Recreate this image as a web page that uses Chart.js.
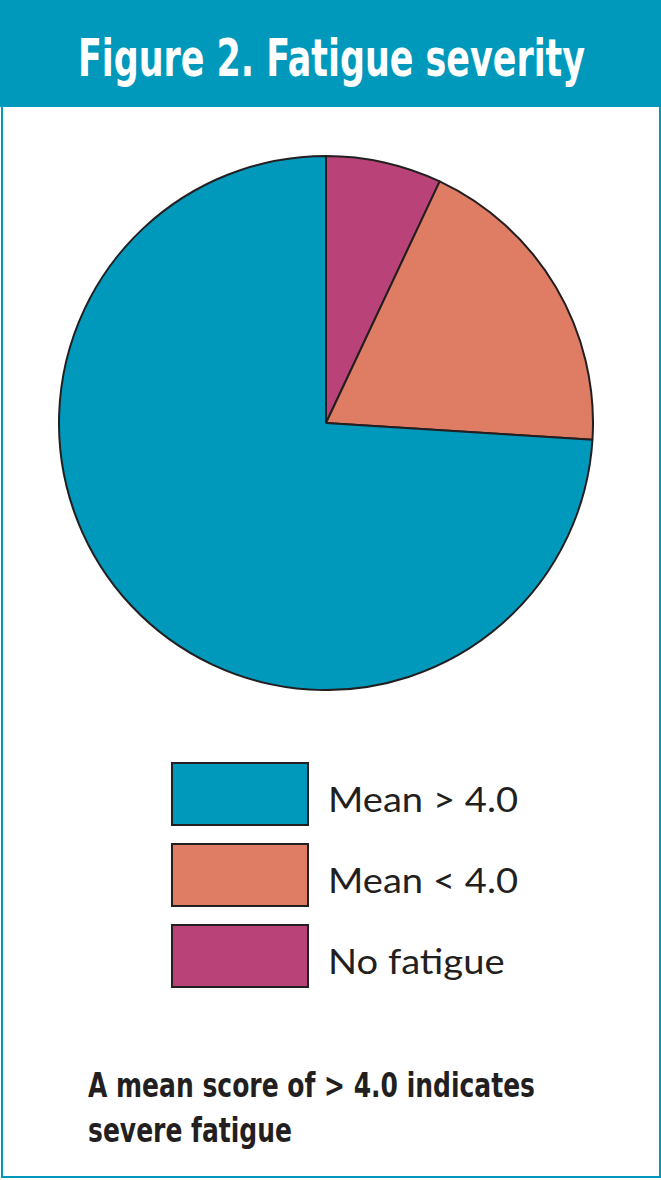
<!DOCTYPE html>
<html>
<head>
<meta charset="utf-8">
<script src="https://cdn.jsdelivr.net/npm/chart.js@4.4.1/dist/chart.umd.min.js"></script>
<style>
  html, body { margin: 0; padding: 0; background: #ffffff; }
  body { width: 661px; height: 1180px; position: relative; overflow: hidden; }
  #frame { position: absolute; left: 1px; top: 0; width: 656px; height: 1176px; border: 2px solid #0099bc; border-top: none; box-sizing: content-box; }
  #banner { position: absolute; left: 0; top: 0; width: 661px; height: 107px; background: #0099bc; }
  .fit { position: absolute; white-space: nowrap; transform-origin: 0 0; }
  #title { left: 78px; top: 25px; color: #ffffff; font-family: "DejaVu Sans", sans-serif; font-stretch: condensed;
           font-weight: bold; font-size: 52px; line-height: 66px; }
  #pieWrap { position: absolute; left: 58px; top: 155px; width: 536px; height: 536px; }
  .leg { position: absolute; left: 171px; width: 138px; height: 64px; box-sizing: border-box; border: 2px solid #231f20; }
  .legText { position: absolute; left: 328px; height: 64px; line-height: 64px; font-family: Lato, sans-serif; font-size: 35px; color: #231f20;
             white-space: nowrap; transform-origin: 0 0; }
  .note { font-family: "DejaVu Sans", sans-serif; font-stretch: condensed; font-weight: bold; font-size: 34px; line-height: 45px; color: #231f20; left: 88px; }
</style>
</head>
<body>
<div id="banner"></div>
<div id="title" class="fit" data-w="507">Figure 2. Fatigue severity</div>
<div id="frame"></div>
<div id="pieWrap"><canvas id="pie" width="536" height="536"></canvas></div>
<div id="legend"></div>
<div class="fit note" style="top:1063px" data-w="447">A mean score of &gt; 4.0 indicates</div>
<div class="fit note" style="top:1108px" data-sx="note">severe fatigue</div>
<script>
// Data (drawn clockwise from 12 o'clock)
const categories = ["No fatigue", "Mean < 4.0", "Mean > 4.0"];
const values = [7, 19, 74];
const colors = ["#b94378", "#de7c64", "#0099bc"];

// Legend (reverse order, as in the figure)
const legend = document.getElementById('legend');
const order = [2, 1, 0];
const legTexts = [];
order.forEach((idx, i) => {
  const top = 762 + i * 81;
  const box = document.createElement('div');
  box.className = 'leg';
  box.style.top = top + 'px';
  box.style.background = colors[idx];
  legend.appendChild(box);
  const t = document.createElement('div');
  t.className = 'legText';
  t.style.top = (top + 4) + 'px';
  t.textContent = categories[idx];
  legend.appendChild(t);
  legTexts.push(t);
});

// Horizontal fitting of text to the reference widths
let noteScale = 1;
document.querySelectorAll('.fit[data-w]').forEach(el => {
  const s = parseFloat(el.dataset.w) / el.getBoundingClientRect().width;
  el.style.transform = 'scaleX(' + s + ')';
  if (el.classList.contains('note')) noteScale = s;
});
document.querySelectorAll('.fit[data-sx="note"]').forEach(el => { el.style.transform = 'scaleX(' + noteScale + ')'; });
const legScale = 190 / legTexts[0].getBoundingClientRect().width;
legTexts.forEach(t => { t.style.transform = 'scaleX(' + legScale + ')'; });

new Chart(document.getElementById('pie'), {
  type: 'pie',
  data: {
    labels: categories,
    datasets: [{ data: values, backgroundColor: colors, borderColor: '#231f20', borderWidth: 2 }]
  },
  options: {
    responsive: false,
    animation: false,
    layout: { padding: 0 },
    plugins: { legend: { display: false }, tooltip: { enabled: false } }
  }
});
</script>
</body>
</html>
